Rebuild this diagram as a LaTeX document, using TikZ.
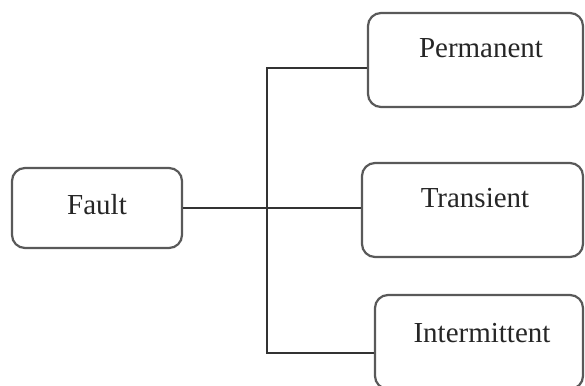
\documentclass[tikz,border=0pt]{standalone}
\usepackage{fontspec}
\setmainfont{Liberation Serif}
\begin{document}
\begin{tikzpicture}[x=1pt,y=-1pt,
  fbox/.style={draw=black!65, line width=2.2pt, rounded corners=13pt, fill=white, inner sep=0pt},
  ftext/.style={font=\fontsize{29}{32}\selectfont, text=black!85},
  conn/.style={draw=black!80, line width=1.8pt}]
\clip (0,0) rectangle (585,385);
\fill[white] (0,0) rectangle (585,385);
% boxes
\node[fbox, minimum width=170pt, minimum height=80pt] (fault) at (97,208) {};
\node[fbox, minimum width=215pt, minimum height=94pt] (perm) at (475.5,60) {};
\node[fbox, minimum width=221pt, minimum height=94pt] (trans) at (472.5,210) {};
\node[fbox, minimum width=208pt, minimum height=94pt] (inter) at (479,342) {};
% texts
\node[ftext] (faulttext) at (97,205) {Fault};
\node[ftext] (permtext) at (481,48) {Permanent};
\node[ftext] (transtext) at (475,198) {Transient};
\node[ftext] (intertext) at (482,333) {Intermittent};
% connectors
\coordinate (jt) at (267,68);
\coordinate (jb) at (267,353);
\draw[conn] (fault.east) -- (fault.east -| trans.west);
\draw[conn] (jt -| perm.west) -- (jt) -- (jb) -- (jb -| inter.west);
\end{tikzpicture}
\end{document}
